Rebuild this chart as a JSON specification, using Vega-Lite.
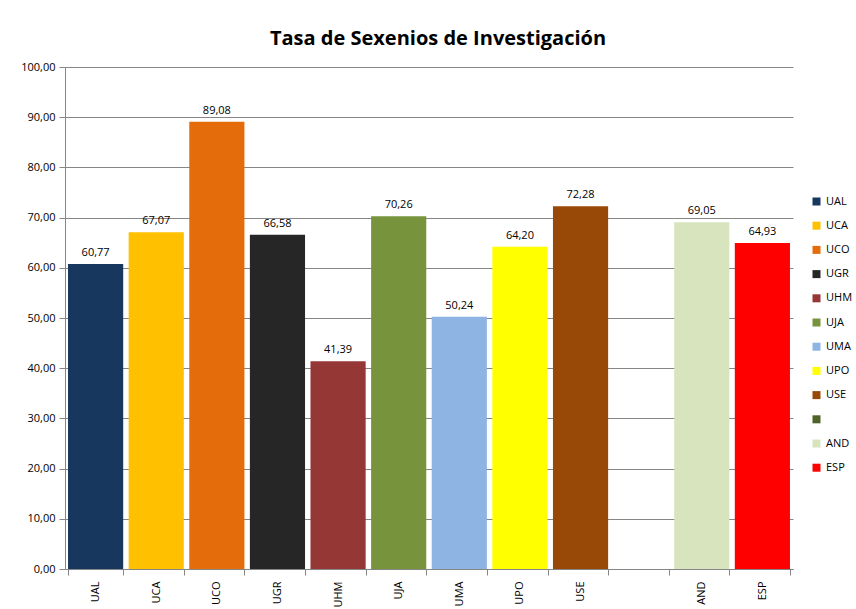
{
  "$schema": "https://vega.github.io/schema/vega-lite/v6.json",
  "autosize": {"type": "none"},
  "width": 728,
  "height": 502,
  "padding": {"left": 65, "top": 67, "right": 63, "bottom": 40},
  "background": "white",
  "config": {
    "locale": {"number": {"decimal": ",", "thousands": ".", "grouping": [3], "currency": ["", " €"]}},
    "font": "Open Sans",
    "view": {"stroke": null}
  },
  "title": {
    "text": "Tasa de Sexenios de Investigación",
    "fontSize": 20,
    "fontWeight": "bold",
    "font": "Open Sans",
    "color": "black",
    "offset": 12,
    "dx": 9
  },
  "data": {
    "values": [
      {"uni": "UAL", "tasa": 60.77},
      {"uni": "UCA", "tasa": 67.07},
      {"uni": "UCO", "tasa": 89.08},
      {"uni": "UGR", "tasa": 66.58},
      {"uni": "UHM", "tasa": 41.39},
      {"uni": "UJA", "tasa": 70.26},
      {"uni": "UMA", "tasa": 50.24},
      {"uni": "UPO", "tasa": 64.20},
      {"uni": "USE", "tasa": 72.28},
      {"uni": "AND", "tasa": 69.05},
      {"uni": "ESP", "tasa": 64.93}
    ]
  },
  "encoding": {
    "x": {
      "field": "uni",
      "type": "nominal",
      "sort": null,
      "scale": {"domain": ["UAL", "UCA", "UCO", "UGR", "UHM", "UJA", "UMA", "UPO", "USE", " ", "AND", "ESP"], "paddingInner": 0.09, "paddingOuter": 0.05},
      "axis": {
        "title": null,
        "labelAngle": -90,
        "labelFontSize": 11,
        "labelColor": "black",
        "tickBand": "extent",
        "domainColor": "#868686",
        "tickColor": "#868686",
        "tickSize": 6,
        "labelPadding": 6
      }
    },
    "y": {
      "field": "tasa",
      "type": "quantitative",
      "scale": {"domain": [0, 100]},
      "axis": {
        "title": null,
        "format": ".2f",
        "values": [0, 10, 20, 30, 40, 50, 60, 70, 80, 90, 100],
        "labelFontSize": 11,
        "labelColor": "black",
        "gridColor": "#868686",
        "domainColor": "#868686",
        "tickColor": "#868686",
        "tickSize": 6,
        "labelPadding": 4
      }
    }
  },
  "layer": [
    {
      "mark": {"type": "bar"},
      "encoding": {
        "color": {
          "field": "uni",
          "type": "nominal",
          "scale": {
            "domain": ["UAL", "UCA", "UCO", "UGR", "UHM", "UJA", "UMA", "UPO", "USE", " ", "AND", "ESP"],
            "range": ["#17375E", "#FFC000", "#E46C0A", "#262626", "#953735", "#77933C", "#8DB4E2", "#FFFF00", "#984807", "#4F6228", "#D7E4BD", "#FF0000"]
          },
          "legend": {
            "title": null,
            "orient": "none",
            "legendX": 746,
            "legendY": 129,
            "symbolType": "square",
            "symbolSize": 64,
            "symbolStrokeWidth": 0,
            "labelFontSize": 11,
            "labelColor": "black",
            "rowPadding": 12.2,
            "labelOffset": 4
          }
        }
      }
    },
    {
      "mark": {"type": "text", "baseline": "bottom", "dy": -6, "fontSize": 11, "color": "black"},
      "encoding": {
        "text": {"field": "tasa", "type": "quantitative", "format": ".2f"}
      }
    }
  ]
}
